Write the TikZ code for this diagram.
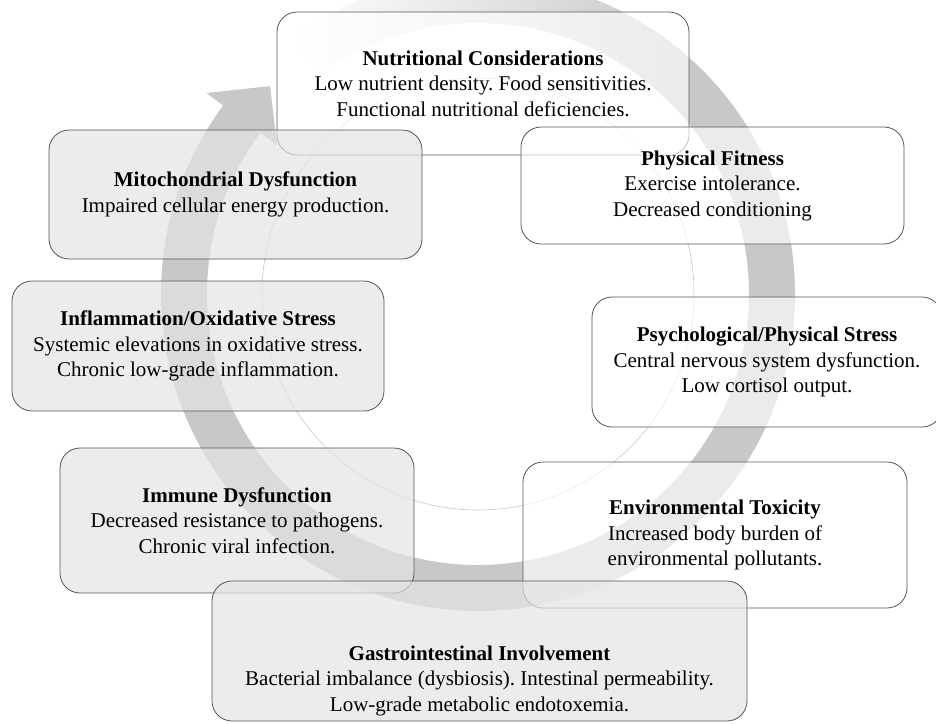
\documentclass[tikz,border=0pt]{standalone}
\usepackage{fontspec}
\setmainfont{Liberation Serif}
\usetikzlibrary{calc}
\definecolor{bandgray}{RGB}{199,200,202}
\definecolor{boxgray}{RGB}{228,228,228}
\definecolor{edgegray}{RGB}{85,85,85}
\definecolor{ringgray}{RGB}{200,200,200}
\frenchspacing

\begin{document}
\begin{tikzpicture}[x=1pt,y=1pt,
  box/.style={rectangle,draw=edgegray,line width=0.8pt,rounded corners=20pt,align=center,
    font=\fontsize{21}{25.5}\selectfont,fill opacity=0.65,text opacity=1,inner sep=3pt},
  wbox/.style={box,fill=white},
  gbox/.style={box,fill=boxgray,fill opacity=0.7}
]
\useasboundingbox (0,0) rectangle (936,-723);
\coordinate (o) at (478,-294);

% thin ring behind everything
\draw[ringgray,line width=0.6pt] (o) circle[radius=216];

% the big cycle arrow
\fill[bandgray] ([shift={(o)}]143.5:317) -- ([shift={(o)}]143.5:338) -- ([shift={(o)}]135:294)
  -- ([shift={(o)}]143.5:250) -- ([shift={(o)}]143.5:271)
  arc[start angle=143.5,end angle=410,radius=271] -- ([shift={(o)}]410:317)
  arc[start angle=410,end angle=143.5,radius=317] -- cycle;
\shade[left color=white,right color=bandgray] ([shift={(o)}]409:271)
  arc[start angle=409,end angle=486,radius=271] -- ([shift={(o)}]486:317)
  arc[start angle=486,end angle=409,radius=317] -- cycle;

% boxes
\node[wbox,minimum width=412,minimum height=143] (nutr) at (483,-83.5)
  {\textbf{Nutritional Considerations}\\Low nutrient density. Food sensitivities.\\Functional nutritional deficiencies.};
\node[wbox,minimum width=383,minimum height=117] (fit) at (712.5,-185.5)
  {\textbf{Physical Fitness}\\Exercise intolerance.\\Decreased conditioning};
\node[gbox,minimum width=373,minimum height=129] (mito) at (235.5,-194.5)
  {\textbf{Mitochondrial Dysfunction}\\Impaired cellular energy production.};
\node[gbox,minimum width=372,minimum height=130] (infl) at (198,-346)
  {\textbf{Inflammation/Oxidative Stress}\\Systemic elevations in oxidative stress.\\Chronic low-grade inflammation.};
\node[wbox,minimum width=350,minimum height=130] (psy) at (767,-362)
  {\textbf{Psychological/Physical Stress}\\Central nervous system dysfunction.\\Low cortisol output.};
\node[wbox,minimum width=384,minimum height=146] (env) at (715,-535)
  {\textbf{Environmental Toxicity}\\Increased body burden of\\environmental pollutants.};
\node[gbox,minimum width=354,minimum height=145] (imm) at (237,-520.5)
  {\textbf{Immune Dysfunction}\\Decreased resistance to pathogens.\\Chronic viral infection.};
\node[gbox,minimum width=535,minimum height=140] (gut) at (479.5,-651)
  {\rule{0pt}{74pt}\textbf{Gastrointestinal Involvement}\\Bacterial imbalance (dysbiosis). Intestinal permeability.\\Low-grade metabolic endotoxemia.};
\end{tikzpicture}
\end{document}
